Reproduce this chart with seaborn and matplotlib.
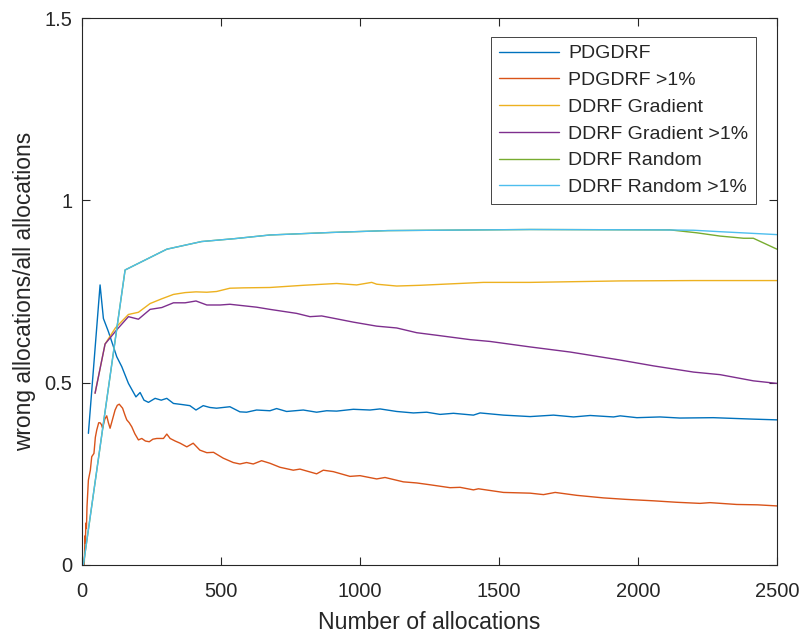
import matplotlib
matplotlib.use("Agg")
import matplotlib.pyplot as plt
import seaborn as sns
import pandas as pd

# ---- series data -------------------------------------------------------
pdg_x = [23, 65, 77, 95, 113, 125, 143, 167, 194, 209, 223, 239, 263, 285, 305,
         329, 360, 388, 410, 436, 460, 484, 532, 568, 592, 628, 676, 700, 736,
         796, 844, 880, 916, 976, 1036, 1072, 1132, 1192, 1240, 1288, 1336,
         1408, 1432, 1516, 1612, 1696, 1768, 1828, 1912, 1936, 1996, 2079,
         2151, 2271, 2415, 2500]
pdg_y = [0.361, 0.768, 0.676, 0.640, 0.599, 0.571, 0.544, 0.498, 0.461, 0.473,
         0.452, 0.446, 0.457, 0.452, 0.457, 0.443, 0.440, 0.437, 0.425, 0.437,
         0.432, 0.430, 0.434, 0.420, 0.419, 0.425, 0.423, 0.429, 0.421, 0.425,
         0.419, 0.423, 0.422, 0.427, 0.425, 0.428, 0.421, 0.417, 0.419, 0.413,
         0.416, 0.411, 0.417, 0.411, 0.407, 0.411, 0.406, 0.410, 0.406, 0.409,
         0.404, 0.406, 0.403, 0.404, 0.400, 0.398]

pdg1_x = [3, 8, 11, 12, 14, 16, 18, 23, 30, 35, 43, 48, 53, 60, 65, 70, 74, 82,
          89, 95, 101, 110, 119, 127, 134, 146, 155, 161, 170, 179, 190, 203,
          215, 228, 242, 255, 269, 293, 305, 317, 335, 353, 377, 400, 424, 449,
          473, 508, 544, 568, 592, 616, 646, 676, 712, 760, 784, 844, 868, 904,
          964, 1000, 1060, 1090, 1156, 1204, 1252, 1324, 1360, 1408, 1426, 1516,
          1612, 1660, 1702, 1780, 1876, 1956, 2056, 2139, 2223, 2259, 2355,
          2430, 2500]
pdg1_y = [0.000, 0.000, 0.080, 0.060, 0.115, 0.100, 0.160, 0.233, 0.260, 0.297,
          0.306, 0.350, 0.370, 0.390, 0.390, 0.385, 0.375, 0.400, 0.409, 0.390,
          0.375, 0.400, 0.425, 0.438, 0.441, 0.430, 0.410, 0.398, 0.390, 0.379,
          0.360, 0.343, 0.347, 0.340, 0.338, 0.345, 0.347, 0.347, 0.359, 0.347,
          0.340, 0.334, 0.324, 0.334, 0.315, 0.308, 0.309, 0.293, 0.281, 0.277,
          0.281, 0.277, 0.286, 0.279, 0.268, 0.260, 0.263, 0.250, 0.260, 0.256,
          0.243, 0.245, 0.236, 0.240, 0.228, 0.225, 0.220, 0.212, 0.213, 0.206,
          0.209, 0.199, 0.197, 0.193, 0.199, 0.191, 0.184, 0.180, 0.176, 0.172,
          0.169, 0.171, 0.166, 0.165, 0.162]

grad_x = [47, 83, 120, 167, 203, 245, 287, 329, 371, 410, 449, 484, 532, 580,
          676, 796, 916, 988, 1042, 1060, 1132, 1216, 1300, 1444, 1612, 1936,
          2200, 2500]
grad_y = [0.471, 0.606, 0.650, 0.687, 0.693, 0.717, 0.730, 0.742, 0.747, 0.749,
          0.748, 0.750, 0.759, 0.760, 0.761, 0.767, 0.772, 0.768, 0.775, 0.770,
          0.765, 0.767, 0.770, 0.775, 0.775, 0.779, 0.780, 0.780]

grad1_x = [47, 83, 125, 167, 203, 245, 287, 329, 371, 410, 449, 497, 532, 580,
           628, 676, 772, 820, 862, 916, 976, 1060, 1132, 1204, 1276, 1396,
           1468, 1612, 1756, 1936, 2056, 2200, 2295, 2415, 2500]
grad1_y = [0.471, 0.606, 0.645, 0.681, 0.674, 0.701, 0.706, 0.719, 0.719, 0.724,
           0.713, 0.713, 0.715, 0.711, 0.707, 0.701, 0.690, 0.681, 0.683, 0.675,
           0.666, 0.655, 0.650, 0.637, 0.630, 0.618, 0.613, 0.598, 0.584, 0.562,
           0.546, 0.529, 0.522, 0.505, 0.498]

rand_x = [5, 155, 305, 430, 550, 676, 900, 1100, 1612, 2079, 2115, 2211, 2295,
          2380, 2415, 2500]
rand_y = [0.000, 0.809, 0.866, 0.887, 0.895, 0.905, 0.912, 0.917, 0.920, 0.919,
          0.919, 0.911, 0.902, 0.896, 0.896, 0.866]

rand1_x = [5, 155, 305, 430, 550, 676, 900, 1100, 1612, 2079, 2200, 2295, 2500]
rand1_y = [0.000, 0.809, 0.866, 0.887, 0.895, 0.905, 0.912, 0.917, 0.920, 0.919,
           0.918, 0.914, 0.906]

labels = ["PDGDRF", "PDGDRF >1%", "DDRF Gradient", "DDRF Gradient >1%",
          "DDRF Random", "DDRF Random >1%"]
colors = ["#0072BD", "#D95319", "#EDB120", "#7E2F8E", "#77AC30", "#4DBEEE"]

x_ticks = [0, 500, 1000, 1500, 2000, 2500]
y_ticks = [0, 0.5, 1, 1.5]
y_tick_labels = ["0", "0.5", "1", "1.5"]

series = [(pdg_x, pdg_y), (pdg1_x, pdg1_y), (grad_x, grad_y),
          (grad1_x, grad1_y), (rand_x, rand_y), (rand1_x, rand1_y)]

frames = []
for lab, (xs, ys) in zip(labels, series):
    frames.append(pd.DataFrame({"n": xs, "ratio": ys, "method": lab}))
df = pd.concat(frames, ignore_index=True)

# ---- styling -----------------------------------------------------------
sns.set_theme(style="white")
plt.rcParams["font.family"] = ["Liberation Sans", "DejaVu Sans"]
axis_color = "#262626"
plt.rcParams.update({
    "axes.edgecolor": axis_color,
    "axes.linewidth": 0.8,
    "xtick.color": axis_color,
    "ytick.color": axis_color,
    "text.color": axis_color,
    "axes.labelcolor": axis_color,
})

fig = plt.figure(figsize=(8.03, 6.35), dpi=100)
ax = fig.add_axes([82 / 803, 1 - 565 / 635, 695 / 803, 547 / 635])

sns.lineplot(data=df, x="n", y="ratio", hue="method", hue_order=labels,
             palette=dict(zip(labels, colors)), estimator=None, sort=False,
             linewidth=1.0, ax=ax)

ax.set_xlim(0, 2500)
ax.set_ylim(0, 1.5)
ax.set_xticks(x_ticks)
ax.set_xticklabels([str(t) for t in x_ticks])
ax.set_yticks(y_ticks)
ax.set_yticklabels(y_tick_labels)
ax.tick_params(direction="in", length=6, width=0.8, labelsize=14.5,
               top=True, right=True, bottom=True, left=True)
ax.tick_params(axis="x", pad=12.5)
ax.tick_params(axis="y", pad=7)
for s in ax.spines.values():
    s.set_visible(True)
    s.set_color(axis_color)

ax.set_xlabel("Number of allocations", fontsize=16.6, labelpad=7)
ax.set_ylabel("wrong allocations/all allocations", fontsize=16.4, labelpad=6)

handles, _ = ax.get_legend_handles_labels()
leg = ax.legend(handles, labels, loc="upper right",
                bbox_to_anchor=((756 - 82) / 695, (565 - 37) / 547),
                borderaxespad=0, fontsize=14, frameon=True, fancybox=False,
                handlelength=3.1, handletextpad=0.46, labelspacing=0.47,
                borderpad=0.4)
leg.get_frame().set_edgecolor(axis_color)
leg.get_frame().set_linewidth(0.6)
leg.get_frame().set_facecolor("white")
leg.get_frame().set_alpha(1)
for h in leg.get_lines():
    h.set_linewidth(1.0)

fig.savefig("out.png", dpi=100)
